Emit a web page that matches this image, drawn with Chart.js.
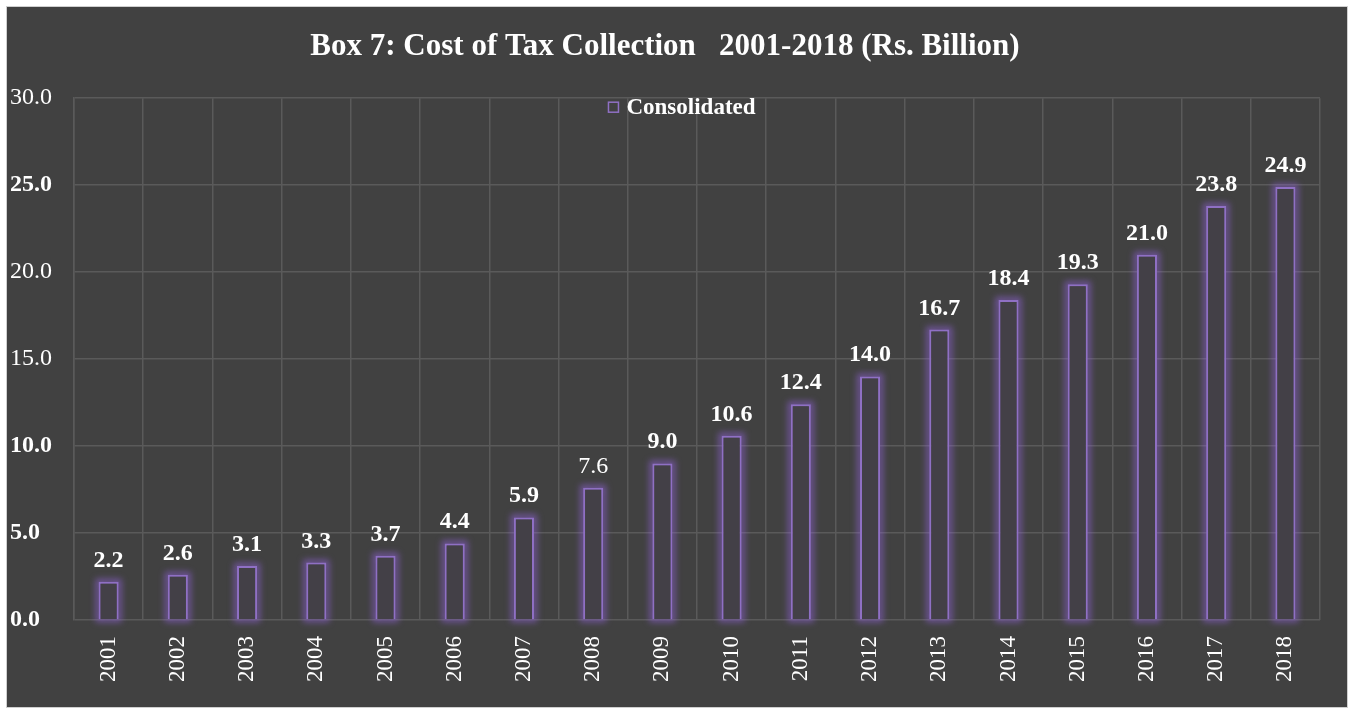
<!DOCTYPE html>
<html>
<head>
<meta charset="utf-8">
<script src="https://cdn.jsdelivr.net/npm/chart.js@4"></script>
<style>
  html, body { margin: 0; padding: 0; background: #ffffff; }
  #wrap { position: absolute; left: 6px; top: 6px; width: 1340px; height: 700px; background: #414141; border: 1px solid #cfcfcf; }
  canvas { display: block; }
</style>
</head>
<body>
<div id="wrap"><canvas id="c" width="1340" height="700"></canvas></div>
<script>
const categories = ['2001','2002','2003','2004','2005','2006','2007','2008','2009','2010','2011','2012','2013','2014','2015','2016','2017','2018'];
const consolidated = [2.2, 2.6, 3.1, 3.3, 3.7, 4.4, 5.9, 7.6, 9.0, 10.6, 12.4, 14.0, 16.7, 18.4, 19.3, 21.0, 23.8, 24.9];
const seriesName = 'Consolidated';
const titleText = 'Box 7: Cost of Tax Collection   2001-2018 (Rs. Billion)';
const yTicks = [0, 5, 10, 15, 20, 25, 30];

const SERIF = '"Liberation Serif", "Times New Roman", serif';
const boldTicks = new Set([0, 5, 10, 25]);
const normalLabels = new Set([7]);
const BAR_STROKE = '#8f70c4';

const glow = {
  id: 'glow',
  beforeDatasetsDraw(chart) {
    const ctx = chart.ctx;
    const meta = chart.getDatasetMeta(0);
    ctx.save();
    ctx.filter = 'blur(3px)';
    ctx.strokeStyle = 'rgba(150,100,225,0.55)';
    ctx.lineWidth = 6;
    meta.data.forEach((bar) => {
      const p = bar.getProps(['x', 'y', 'base', 'width'], true);
      ctx.strokeRect(p.x - p.width / 2, p.y, p.width, p.base - p.y);
    });
    ctx.restore();
  }
};

const valueLabels = {
  id: 'valueLabels',
  afterDatasetsDraw(chart) {
    const ctx = chart.ctx;
    const meta = chart.getDatasetMeta(0);
    ctx.save();
    ctx.fillStyle = '#ffffff';
    ctx.textAlign = 'center';
    ctx.textBaseline = 'alphabetic';
    meta.data.forEach((bar, i) => {
      const v = chart.data.datasets[0].data[i];
      ctx.font = (normalLabels.has(i) ? '' : 'bold ') + '24px ' + SERIF;
      ctx.fillText(v.toFixed(1), bar.x, bar.y - 15);
    });
    ctx.restore();
  }
};

const insideLegend = {
  id: 'insideLegend',
  afterDraw(chart) {
    const ctx = chart.ctx;
    const area = chart.chartArea;
    const label = chart.data.datasets[0].label;
    ctx.save();
    ctx.font = 'bold 23px ' + SERIF;
    const tw = ctx.measureText(label).width;
    const box = 10, gap = 8;
    const total = box + gap + tw;
    const cx = (area.left + area.right) / 2 - 15;
    const x0 = cx - total / 2;
    const cy = area.top + 9;
    ctx.strokeStyle = BAR_STROKE;
    ctx.lineWidth = 1.5;
    ctx.strokeRect(x0, cy - box / 2, box, box);
    ctx.fillStyle = '#ffffff';
    ctx.textAlign = 'left';
    ctx.textBaseline = 'middle';
    ctx.fillText(label, x0 + box + gap, cy + 1);
    ctx.restore();
  }
};

new Chart(document.getElementById('c'), {
  type: 'bar',
  data: {
    labels: categories,
    datasets: [{
      label: seriesName,
      data: consolidated,
      backgroundColor: '#434047',
      borderColor: BAR_STROKE,
      borderWidth: 2,
      barPercentage: 0.29,
      categoryPercentage: 1.0
    }]
  },
  options: {
    responsive: false,
    animation: false,
    events: [],
    layout: { padding: { left: 3, right: 27, top: 0, bottom: 9 } },
    plugins: {
      title: {
        display: true,
        text: titleText,
        color: '#ffffff',
        font: { family: SERIF, size: 31, weight: 'bold' },
        padding: { top: 21, bottom: 33 }
      },
      legend: { display: false },
      tooltip: { enabled: false }
    },
    scales: {
      x: {
        grid: { color: '#5a5a5a', lineWidth: 1.5, drawTicks: false, offset: true },
        border: { display: false },
        ticks: {
          color: '#ffffff',
          font: { family: SERIF, size: 23 },
          maxRotation: 90,
          minRotation: 90,
          padding: 16,
          autoSkip: false
        }
      },
      y: {
        min: 0,
        max: 30,
        afterBuildTicks(axis) { axis.ticks = yTicks.map(v => ({ value: v })); },
        grid: { color: '#5a5a5a', lineWidth: 1.5, drawTicks: false },
        border: { display: true, color: '#5a5a5a', width: 1.5 },
        ticks: {
          color: '#ffffff',
          crossAlign: 'far',
          padding: 11,
          font: (ctx) => ({ family: SERIF, size: 24, weight: (ctx && ctx.tick && boldTicks.has(ctx.tick.value)) ? 'bold' : 'normal' }),
          callback: (v) => Number(v).toFixed(1)
        }
      }
    }
  },
  plugins: [glow, valueLabels, insideLegend]
});
</script>
</body>
</html>
